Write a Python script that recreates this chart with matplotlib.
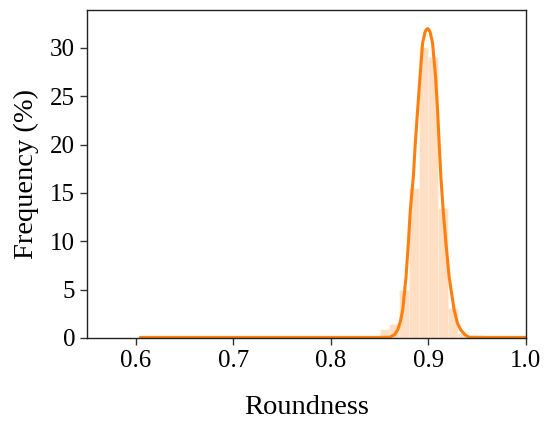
import matplotlib
matplotlib.use("Agg")
import matplotlib.pyplot as plt
import numpy as np

# Histogram (bin left edges, width 0.01) and heights in %
bin_left = [0.84, 0.85, 0.86, 0.87, 0.88, 0.89, 0.90, 0.91, 0.92, 0.93]
bin_height = [0.2, 0.9, 1.4, 5.0, 15.5, 30.1, 29.1, 13.4, 3.1, 0.5]
bin_width = 0.01

# KDE curve points
curve_x = [0.605, 0.70, 0.80, 0.85, 0.8602, 0.8653, 0.8687, 0.8714, 0.8738, 0.8772,
           0.8796, 0.8816, 0.8847, 0.8867, 0.8891, 0.8915, 0.8942, 0.8966, 0.8980,
           0.8993, 0.9006, 0.9020, 0.9044, 0.9075, 0.9095, 0.9112, 0.9129, 0.9153,
           0.9181, 0.9214, 0.9265, 0.9299, 0.9333, 0.9378, 0.9418, 0.96, 1.0]
curve_y = [0.05, 0.05, 0.05, 0.05, 0.07, 0.31, 0.83, 1.69, 2.9, 6.3,
           9.8, 13.2, 16.7, 20.1, 23.6, 27.0, 30.5, 31.6, 31.9,
           32.0, 31.9, 31.6, 30.5, 27.0, 23.6, 20.1, 16.7, 13.2,
           9.8, 6.3, 2.9, 1.52, 0.83, 0.31, 0.07, 0.05, 0.05]

plt.rcParams['font.family'] = ['Liberation Serif', 'DejaVu Serif']

fig = plt.figure(figsize=(5.5, 4.25), dpi=100)
ax = fig.add_axes([0.158, 0.205, 0.798, 0.771])

ax.bar(bin_left, bin_height, width=bin_width, align='edge',
       color='#ff7f0e', alpha=0.25, edgecolor='white', linewidth=1.0)
ax.plot(curve_x, curve_y, color='#ff7f0e', linewidth=2.2,
        solid_joinstyle='round', solid_capstyle='round')

ax.set_xlim(0.55, 1.0)
ax.set_ylim(0, 33.9)
ax.set_xticks([0.6, 0.7, 0.8, 0.9, 1.0])
ax.set_xticklabels(['0.6', '0.7', '0.8', '0.9', '1.0'])
ax.set_yticks([0, 5, 10, 15, 20, 25, 30])
ax.tick_params(axis='both', labelsize=18, direction='out', length=5, width=1, color='#333333')
for s in ax.spines.values():
    s.set_linewidth(1.0)
    s.set_color('#222222')

ax.set_xlabel('Roundness', fontsize=20.5, labelpad=17)
ax.set_ylabel('Frequency (%)', fontsize=20.5, labelpad=8)

fig.savefig('out.png', dpi=100)
